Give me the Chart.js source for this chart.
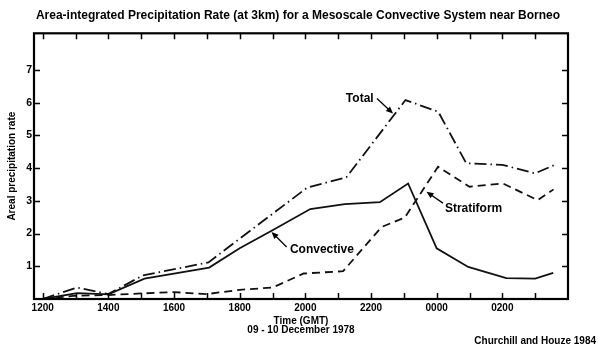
<!DOCTYPE html>
<html>
<head>
<meta charset="utf-8">
<title>Area-integrated Precipitation Rate</title>
<script src="https://cdn.jsdelivr.net/npm/chart.js@4/dist/chart.umd.min.js"></script>
<style>
  html, body { margin: 0; padding: 0; background: #fff; }
</style>
</head>
<body>
<canvas id="precipChart" width="600" height="350"></canvas>
<script>
// hours after 1200 GMT, 09 Dec 1978
const tickHours = [0, 2, 4, 6, 8, 10, 12, 14];
const tickLabels = ['1200', '1400', '1600', '1800', '2000', '2200', '0000', '0200'];
const rateTicks = [1, 2, 3, 4, 5, 6, 7];

const totalHours = [0, 1.05, 2, 3.05, 4.1, 5.05, 8.05, 9.25, 11.05, 12.05, 12.9, 14.0, 15.0, 15.6];
const totalRate  = [0, 0.35, 0.15, 0.72, 0.93, 1.12, 3.4, 3.72, 6.08, 5.72, 4.15, 4.1, 3.84, 4.1];

const convHours = [0, 1.05, 2, 3.1, 5.07, 6, 7, 8.15, 9.2, 10.27, 11.13, 12.0, 12.96, 14.12, 15.0, 15.55];
const convRate  = [0, 0.18, 0.14, 0.62, 0.96, 1.55, 2.1, 2.75, 2.9, 2.96, 3.53, 1.55, 0.98, 0.64, 0.62, 0.8];

const stratHours = [0, 1, 2, 3, 4, 5, 6, 7, 7.95, 9.15, 10.32, 11.03, 12.04, 13.0, 14.02, 15.08, 15.56];
const stratRate  = [0, 0.1, 0.12, 0.17, 0.21, 0.15, 0.28, 0.35, 0.78, 0.85, 2.2, 2.49, 4.04, 3.43, 3.53, 3.02, 3.35];

// labels with arrows, in data units: text anchor, arrow tail -> head
const notes = [
  { text: 'Total', at: [10.08, 6.13], align: 'right', from: [10.18, 6.13], to: [10.67, 5.67] },
  { text: 'Convective', at: [7.53, 1.52], align: 'left', from: [7.43, 1.59], to: [6.97, 2.05] },
  { text: 'Stratiform', at: [12.25, 2.75], align: 'left', from: [12.19, 2.93], to: [11.69, 3.28] }
];

const pts = (xs, ys) => xs.map((h, i) => ({ x: h, y: ys[i] }));

Chart.defaults.font.family = '"Liberation Sans", Arial, Helvetica, sans-serif';
Chart.defaults.color = '#000';

const frame = {
  id: 'frame',
  afterDatasetsDraw(chart) {
    const { ctx, chartArea: a, scales: { x, y } } = chart;
    ctx.save();
    ctx.strokeStyle = '#000';
    ctx.lineWidth = 1.5;
    ctx.beginPath();
    for (let h = 0; h <= 15; h++) {
      const px = Math.round(x.getPixelForValue(h)) + 0.5;
      ctx.moveTo(px, a.bottom); ctx.lineTo(px, a.bottom - 6);
      ctx.moveTo(px, a.top); ctx.lineTo(px, a.top + 6);
    }
    rateTicks.forEach(v => {
      const py = Math.round(y.getPixelForValue(v)) + 0.5;
      ctx.moveTo(a.left, py); ctx.lineTo(a.left + 6, py);
      ctx.moveTo(a.right, py); ctx.lineTo(a.right - 6, py);
    });
    ctx.stroke();
    ctx.lineWidth = 2.2;
    ctx.strokeRect(a.left, a.top, a.right - a.left, a.bottom - a.top);

    // annotations
    ctx.font = 'bold 12px "Liberation Sans", Arial, sans-serif';
    ctx.fillStyle = '#000';
    ctx.textBaseline = 'middle';
    notes.forEach(n => {
      ctx.textAlign = n.align;
      ctx.fillText(n.text, x.getPixelForValue(n.at[0]), y.getPixelForValue(n.at[1]));
      const x0 = x.getPixelForValue(n.from[0]), y0 = y.getPixelForValue(n.from[1]);
      const x1 = x.getPixelForValue(n.to[0]), y1 = y.getPixelForValue(n.to[1]);
      const ang = Math.atan2(y1 - y0, x1 - x0);
      ctx.lineWidth = 1.3;
      ctx.beginPath();
      ctx.moveTo(x0, y0);
      ctx.lineTo(x1 - 4 * Math.cos(ang), y1 - 4 * Math.sin(ang));
      ctx.stroke();
      ctx.beginPath();
      ctx.moveTo(x1, y1);
      ctx.lineTo(x1 - 7 * Math.cos(ang) + 3 * Math.sin(ang), y1 - 7 * Math.sin(ang) - 3 * Math.cos(ang));
      ctx.lineTo(x1 - 7 * Math.cos(ang) - 3 * Math.sin(ang), y1 - 7 * Math.sin(ang) + 3 * Math.cos(ang));
      ctx.closePath();
      ctx.fill();
    });
    ctx.restore();
  }
};

const lineSet = (label, data, dash) => ({
  label, data, borderColor: '#111', borderWidth: 1.8, borderDash: dash,
  pointRadius: 0, tension: 0, fill: false
});

new Chart(document.getElementById('precipChart'), {
  type: 'line',
  data: {
    datasets: [
      lineSet('Total', pts(totalHours, totalRate), [12, 4, 1.5, 4]),
      lineSet('Stratiform', pts(stratHours, stratRate), [8, 5]),
      lineSet('Convective', pts(convHours, convRate), [])
    ]
  },
  options: {
    responsive: false,
    animation: false,
    layout: { padding: { left: 0, right: 4, top: 0, bottom: 0 } },
    plugins: {
      legend: { display: false },
      tooltip: { enabled: false },
      title: {
        display: true,
        text: 'Area-integrated Precipitation Rate (at 3km) for a Mesoscale Convective System near Borneo',
        font: { size: 12, weight: 'bold' },
        padding: { top: 8.3, bottom: 10.6 }
      },
      subtitle: {
        display: true,
        position: 'bottom',
        align: 'end',
        text: 'Churchill and Houze 1984',
        font: { size: 10, weight: 'bold' },
        padding: { top: 0, bottom: 2.3 }
      }
    },
    scales: {
      x: {
        type: 'linear',
        min: -0.265,
        max: 16,
        afterBuildTicks: s => { s.ticks = tickHours.map(v => ({ value: v })); },
        afterFit: s => { s.height = 36.7; },
        grid: { display: false, drawTicks: false },
        border: { display: false },
        ticks: {
          autoSkip: false, maxRotation: 0, padding: 3,
          font: { size: 10, weight: 'bold' },
          callback: v => tickLabels[tickHours.indexOf(v)]
        },
        title: {
          display: true,
          text: ['Time (GMT)', '09 - 10 December 1978'],
          font: { size: 10, weight: 'bold', lineHeight: 0.9 },
          padding: { top: 0, bottom: 1.2 }
        }
      },
      y: {
        min: 0,
        max: 8.12,
        afterBuildTicks: s => { s.ticks = rateTicks.map(v => ({ value: v })); },
        afterFit: s => { s.width = 34; },
        grid: { display: false, drawTicks: false },
        border: { display: false },
        ticks: { padding: 2, font: { size: 10.5, weight: 'bold' } },
        title: {
          display: true,
          text: 'Areal precipitation rate',
          font: { size: 10, weight: 'bold' },
          padding: { top: 6, bottom: 0 }
        }
      },
      y2: {
        position: 'right',
        min: 0,
        max: 8.12,
        afterFit: s => { s.width = 28; },
        grid: { display: false, drawTicks: false },
        border: { display: false },
        ticks: { display: false }
      }
    }
  },
  plugins: [frame]
});
</script>
</body>
</html>
